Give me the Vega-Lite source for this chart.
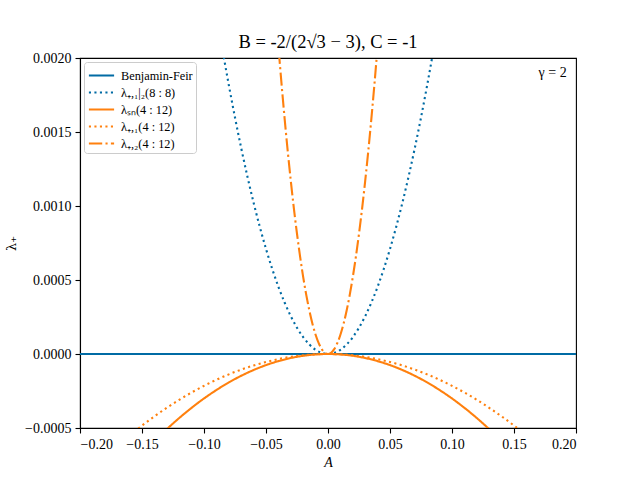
{
  "$schema": "https://vega.github.io/schema/vega-lite/v6.json",
  "width": 496,
  "height": 370,
  "autosize": {"type": "none"},
  "padding": {"left": 80, "top": 58, "right": 64, "bottom": 52},
  "background": "white",
  "title": {"text": "B = -2/(2√3 − 3), C = -1", "fontSize": 18.5, "font": "Liberation Serif", "fontWeight": "normal", "offset": 0, "color": "black"},
  "config": {
    "font": "Liberation Serif",
    "view": {"stroke": "black", "strokeWidth": 1.1},
    "axis": {"grid": false, "domainColor": "black", "domainWidth": 1.1, "tickColor": "black", "tickWidth": 1.1, "tickSize": 5, "labelPadding": 4, "labelFont": "Liberation Serif", "labelFontSize": 14, "labelColor": "black", "titleFont": "Liberation Serif", "titleFontSize": 14, "titleFontWeight": "normal", "titleColor": "black"}
  },
  "datasets": {
    "curves": [
      {"A": -0.2, "lam": 0, "s": "Benjamin-Feir"},
      {"A": 0.2, "lam": 0, "s": "Benjamin-Feir"},

      {"A": -0.09, "lam": 0.0023, "s": "λ₊,₁|₂(8 : 8)"},
      {"A": -0.085, "lam": 0.002052, "s": "λ₊,₁|₂(8 : 8)"},
      {"A": -0.08, "lam": 0.0018176, "s": "λ₊,₁|₂(8 : 8)"},
      {"A": -0.075, "lam": 0.0015975, "s": "λ₊,₁|₂(8 : 8)"},
      {"A": -0.07, "lam": 0.0013916, "s": "λ₊,₁|₂(8 : 8)"},
      {"A": -0.065, "lam": 0.0011999, "s": "λ₊,₁|₂(8 : 8)"},
      {"A": -0.06, "lam": 0.0010224, "s": "λ₊,₁|₂(8 : 8)"},
      {"A": -0.055, "lam": 0.0008591, "s": "λ₊,₁|₂(8 : 8)"},
      {"A": -0.05, "lam": 0.00071, "s": "λ₊,₁|₂(8 : 8)"},
      {"A": -0.045, "lam": 0.0005751, "s": "λ₊,₁|₂(8 : 8)"},
      {"A": -0.04, "lam": 0.0004544, "s": "λ₊,₁|₂(8 : 8)"},
      {"A": -0.035, "lam": 0.0003479, "s": "λ₊,₁|₂(8 : 8)"},
      {"A": -0.03, "lam": 0.0002556, "s": "λ₊,₁|₂(8 : 8)"},
      {"A": -0.025, "lam": 0.0001775, "s": "λ₊,₁|₂(8 : 8)"},
      {"A": -0.02, "lam": 0.0001136, "s": "λ₊,₁|₂(8 : 8)"},
      {"A": -0.015, "lam": 0.0000639, "s": "λ₊,₁|₂(8 : 8)"},
      {"A": -0.01, "lam": 0.0000284, "s": "λ₊,₁|₂(8 : 8)"},
      {"A": -0.005, "lam": 0.0000071, "s": "λ₊,₁|₂(8 : 8)"},
      {"A": 0, "lam": 0, "s": "λ₊,₁|₂(8 : 8)"},
      {"A": 0.005, "lam": 0.0000071, "s": "λ₊,₁|₂(8 : 8)"},
      {"A": 0.01, "lam": 0.0000284, "s": "λ₊,₁|₂(8 : 8)"},
      {"A": 0.015, "lam": 0.0000639, "s": "λ₊,₁|₂(8 : 8)"},
      {"A": 0.02, "lam": 0.0001136, "s": "λ₊,₁|₂(8 : 8)"},
      {"A": 0.025, "lam": 0.0001775, "s": "λ₊,₁|₂(8 : 8)"},
      {"A": 0.03, "lam": 0.0002556, "s": "λ₊,₁|₂(8 : 8)"},
      {"A": 0.035, "lam": 0.0003479, "s": "λ₊,₁|₂(8 : 8)"},
      {"A": 0.04, "lam": 0.0004544, "s": "λ₊,₁|₂(8 : 8)"},
      {"A": 0.045, "lam": 0.0005751, "s": "λ₊,₁|₂(8 : 8)"},
      {"A": 0.05, "lam": 0.00071, "s": "λ₊,₁|₂(8 : 8)"},
      {"A": 0.055, "lam": 0.0008591, "s": "λ₊,₁|₂(8 : 8)"},
      {"A": 0.06, "lam": 0.0010224, "s": "λ₊,₁|₂(8 : 8)"},
      {"A": 0.065, "lam": 0.0011999, "s": "λ₊,₁|₂(8 : 8)"},
      {"A": 0.07, "lam": 0.0013916, "s": "λ₊,₁|₂(8 : 8)"},
      {"A": 0.075, "lam": 0.0015975, "s": "λ₊,₁|₂(8 : 8)"},
      {"A": 0.08, "lam": 0.0018176, "s": "λ₊,₁|₂(8 : 8)"},
      {"A": 0.085, "lam": 0.002052, "s": "λ₊,₁|₂(8 : 8)"},
      {"A": 0.09, "lam": 0.0023, "s": "λ₊,₁|₂(8 : 8)"},

      {"A": -0.135, "lam": -0.0005477, "s": "λₛₙ(4 : 12)"},
      {"A": -0.13, "lam": -0.0005078, "s": "λₛₙ(4 : 12)"},
      {"A": -0.12, "lam": -0.0004327, "s": "λₛₙ(4 : 12)"},
      {"A": -0.11, "lam": -0.0003636, "s": "λₛₙ(4 : 12)"},
      {"A": -0.1, "lam": -0.0003005, "s": "λₛₙ(4 : 12)"},
      {"A": -0.09, "lam": -0.0002434, "s": "λₛₙ(4 : 12)"},
      {"A": -0.08, "lam": -0.0001923, "s": "λₛₙ(4 : 12)"},
      {"A": -0.07, "lam": -0.0001472, "s": "λₛₙ(4 : 12)"},
      {"A": -0.06, "lam": -0.0001082, "s": "λₛₙ(4 : 12)"},
      {"A": -0.05, "lam": -0.0000751, "s": "λₛₙ(4 : 12)"},
      {"A": -0.04, "lam": -0.0000481, "s": "λₛₙ(4 : 12)"},
      {"A": -0.03, "lam": -0.000027, "s": "λₛₙ(4 : 12)"},
      {"A": -0.02, "lam": -0.000012, "s": "λₛₙ(4 : 12)"},
      {"A": -0.01, "lam": -0.000003, "s": "λₛₙ(4 : 12)"},
      {"A": 0, "lam": 0, "s": "λₛₙ(4 : 12)"},
      {"A": 0.01, "lam": -0.000003, "s": "λₛₙ(4 : 12)"},
      {"A": 0.02, "lam": -0.000012, "s": "λₛₙ(4 : 12)"},
      {"A": 0.03, "lam": -0.000027, "s": "λₛₙ(4 : 12)"},
      {"A": 0.04, "lam": -0.0000481, "s": "λₛₙ(4 : 12)"},
      {"A": 0.05, "lam": -0.0000751, "s": "λₛₙ(4 : 12)"},
      {"A": 0.06, "lam": -0.0001082, "s": "λₛₙ(4 : 12)"},
      {"A": 0.07, "lam": -0.0001472, "s": "λₛₙ(4 : 12)"},
      {"A": 0.08, "lam": -0.0001923, "s": "λₛₙ(4 : 12)"},
      {"A": 0.09, "lam": -0.0002434, "s": "λₛₙ(4 : 12)"},
      {"A": 0.1, "lam": -0.0003005, "s": "λₛₙ(4 : 12)"},
      {"A": 0.11, "lam": -0.0003636, "s": "λₛₙ(4 : 12)"},
      {"A": 0.12, "lam": -0.0004327, "s": "λₛₙ(4 : 12)"},
      {"A": 0.13, "lam": -0.0005078, "s": "λₛₙ(4 : 12)"},
      {"A": 0.135, "lam": -0.0005477, "s": "λₛₙ(4 : 12)"},

      {"A": -0.16, "lam": -0.0005504, "s": "λ₊,₁(4 : 12)"},
      {"A": -0.15, "lam": -0.0004838, "s": "λ₊,₁(4 : 12)"},
      {"A": -0.14, "lam": -0.0004214, "s": "λ₊,₁(4 : 12)"},
      {"A": -0.13, "lam": -0.0003634, "s": "λ₊,₁(4 : 12)"},
      {"A": -0.12, "lam": -0.0003096, "s": "λ₊,₁(4 : 12)"},
      {"A": -0.11, "lam": -0.0002602, "s": "λ₊,₁(4 : 12)"},
      {"A": -0.1, "lam": -0.000215, "s": "λ₊,₁(4 : 12)"},
      {"A": -0.09, "lam": -0.0001742, "s": "λ₊,₁(4 : 12)"},
      {"A": -0.08, "lam": -0.0001376, "s": "λ₊,₁(4 : 12)"},
      {"A": -0.07, "lam": -0.0001054, "s": "λ₊,₁(4 : 12)"},
      {"A": -0.06, "lam": -0.0000774, "s": "λ₊,₁(4 : 12)"},
      {"A": -0.05, "lam": -0.0000538, "s": "λ₊,₁(4 : 12)"},
      {"A": -0.04, "lam": -0.0000344, "s": "λ₊,₁(4 : 12)"},
      {"A": -0.03, "lam": -0.0000194, "s": "λ₊,₁(4 : 12)"},
      {"A": -0.02, "lam": -0.0000086, "s": "λ₊,₁(4 : 12)"},
      {"A": -0.01, "lam": -0.0000022, "s": "λ₊,₁(4 : 12)"},
      {"A": 0, "lam": 0, "s": "λ₊,₁(4 : 12)"},
      {"A": 0.01, "lam": -0.0000022, "s": "λ₊,₁(4 : 12)"},
      {"A": 0.02, "lam": -0.0000086, "s": "λ₊,₁(4 : 12)"},
      {"A": 0.03, "lam": -0.0000194, "s": "λ₊,₁(4 : 12)"},
      {"A": 0.04, "lam": -0.0000344, "s": "λ₊,₁(4 : 12)"},
      {"A": 0.05, "lam": -0.0000538, "s": "λ₊,₁(4 : 12)"},
      {"A": 0.06, "lam": -0.0000774, "s": "λ₊,₁(4 : 12)"},
      {"A": 0.07, "lam": -0.0001054, "s": "λ₊,₁(4 : 12)"},
      {"A": 0.08, "lam": -0.0001376, "s": "λ₊,₁(4 : 12)"},
      {"A": 0.09, "lam": -0.0001742, "s": "λ₊,₁(4 : 12)"},
      {"A": 0.1, "lam": -0.000215, "s": "λ₊,₁(4 : 12)"},
      {"A": 0.11, "lam": -0.0002602, "s": "λ₊,₁(4 : 12)"},
      {"A": 0.12, "lam": -0.0003096, "s": "λ₊,₁(4 : 12)"},
      {"A": 0.13, "lam": -0.0003634, "s": "λ₊,₁(4 : 12)"},
      {"A": 0.14, "lam": -0.0004214, "s": "λ₊,₁(4 : 12)"},
      {"A": 0.15, "lam": -0.0004838, "s": "λ₊,₁(4 : 12)"},
      {"A": 0.16, "lam": -0.0005504, "s": "λ₊,₁(4 : 12)"},

      {"A": -0.0425, "lam": 0.002348, "s": "λ₊,₂(4 : 12)"},
      {"A": -0.04, "lam": 0.00208, "s": "λ₊,₂(4 : 12)"},
      {"A": -0.0375, "lam": 0.001828, "s": "λ₊,₂(4 : 12)"},
      {"A": -0.035, "lam": 0.0015925, "s": "λ₊,₂(4 : 12)"},
      {"A": -0.0325, "lam": 0.001373, "s": "λ₊,₂(4 : 12)"},
      {"A": -0.03, "lam": 0.00117, "s": "λ₊,₂(4 : 12)"},
      {"A": -0.0275, "lam": 0.000983, "s": "λ₊,₂(4 : 12)"},
      {"A": -0.025, "lam": 0.0008125, "s": "λ₊,₂(4 : 12)"},
      {"A": -0.0225, "lam": 0.000658, "s": "λ₊,₂(4 : 12)"},
      {"A": -0.02, "lam": 0.00052, "s": "λ₊,₂(4 : 12)"},
      {"A": -0.0175, "lam": 0.000398, "s": "λ₊,₂(4 : 12)"},
      {"A": -0.015, "lam": 0.0002925, "s": "λ₊,₂(4 : 12)"},
      {"A": -0.0125, "lam": 0.000203, "s": "λ₊,₂(4 : 12)"},
      {"A": -0.01, "lam": 0.00013, "s": "λ₊,₂(4 : 12)"},
      {"A": -0.0075, "lam": 0.0000731, "s": "λ₊,₂(4 : 12)"},
      {"A": -0.005, "lam": 0.0000325, "s": "λ₊,₂(4 : 12)"},
      {"A": -0.0025, "lam": 0.0000081, "s": "λ₊,₂(4 : 12)"},
      {"A": 0, "lam": 0, "s": "λ₊,₂(4 : 12)"},
      {"A": 0.0025, "lam": 0.0000081, "s": "λ₊,₂(4 : 12)"},
      {"A": 0.005, "lam": 0.0000325, "s": "λ₊,₂(4 : 12)"},
      {"A": 0.0075, "lam": 0.0000731, "s": "λ₊,₂(4 : 12)"},
      {"A": 0.01, "lam": 0.00013, "s": "λ₊,₂(4 : 12)"},
      {"A": 0.0125, "lam": 0.000203, "s": "λ₊,₂(4 : 12)"},
      {"A": 0.015, "lam": 0.0002925, "s": "λ₊,₂(4 : 12)"},
      {"A": 0.0175, "lam": 0.000398, "s": "λ₊,₂(4 : 12)"},
      {"A": 0.02, "lam": 0.00052, "s": "λ₊,₂(4 : 12)"},
      {"A": 0.0225, "lam": 0.000658, "s": "λ₊,₂(4 : 12)"},
      {"A": 0.025, "lam": 0.0008125, "s": "λ₊,₂(4 : 12)"},
      {"A": 0.0275, "lam": 0.000983, "s": "λ₊,₂(4 : 12)"},
      {"A": 0.03, "lam": 0.00117, "s": "λ₊,₂(4 : 12)"},
      {"A": 0.0325, "lam": 0.001373, "s": "λ₊,₂(4 : 12)"},
      {"A": 0.035, "lam": 0.0015925, "s": "λ₊,₂(4 : 12)"},
      {"A": 0.0375, "lam": 0.001828, "s": "λ₊,₂(4 : 12)"},
      {"A": 0.04, "lam": 0.00208, "s": "λ₊,₂(4 : 12)"},
      {"A": 0.0425, "lam": 0.002348, "s": "λ₊,₂(4 : 12)"}
    ]
  },
  "layer": [
    {
      "data": {"name": "curves"},
      "mark": {"type": "line", "clip": true, "strokeWidth": 2.1, "interpolate": "monotone", "strokeCap": "butt"},
      "encoding": {
        "x": {"field": "A", "type": "quantitative", "scale": {"domain": [-0.2, 0.2], "nice": false, "zero": false},
              "axis": {"title": "A", "titleFontStyle": "italic", "values": [-0.2, -0.15, -0.1, -0.05, 0, 0.05, 0.1, 0.15, 0.2], "format": ".2f", "titlePadding": 4}},
        "y": {"field": "lam", "type": "quantitative", "scale": {"domain": [-0.0005, 0.002], "nice": false, "zero": false},
              "axis": {"title": "λ₊", "titleFont": "DejaVu Serif", "titleFontSize": 13, "values": [-0.0005, 0, 0.0005, 0.001, 0.0015, 0.002], "format": ".4f", "titlePadding": 6}},
        "color": {"field": "s", "type": "nominal",
                  "scale": {"domain": ["Benjamin-Feir", "λ₊,₁|₂(8 : 8)", "λₛₙ(4 : 12)", "λ₊,₁(4 : 12)", "λ₊,₂(4 : 12)"],
                            "range": ["#006BA4", "#006BA4", "#FF800E", "#FF800E", "#FF800E"]},
                  "legend": {"title": null, "orient": "top-left", "offset": 4, "padding": 3, "strokeColor": "#cccccc", "fillColor": "white", "cornerRadius": 3,
                             "symbolType": "M-1.4,0H1.4", "symbolSize": 324, "symbolStrokeWidth": 2.1, "symbolOffset": 4, "labelFont": "Liberation Serif", "labelFontSize": 12.3, "labelColor": "black", "rowPadding": 0, "labelOffset": 9}},
        "strokeDash": {"field": "s", "type": "nominal",
                       "scale": {"domain": ["Benjamin-Feir", "λ₊,₁|₂(8 : 8)", "λₛₙ(4 : 12)", "λ₊,₁(4 : 12)", "λ₊,₂(4 : 12)"],
                                 "range": [[1, 0], [2.1, 3.4], [1, 0], [2.1, 3.4], [13.3, 3.3, 2.1, 3.3]]},
                       "legend": {"title": null}}
      }
    },
    {
      "data": {"values": [{}]},
      "mark": {"type": "text", "text": "γ = 2", "align": "right", "baseline": "middle", "fontSize": 14, "font": "Liberation Serif", "color": "black"},
      "encoding": {"x": {"datum": 0.1925}, "y": {"datum": 0.0019}}
    }
  ]
}
